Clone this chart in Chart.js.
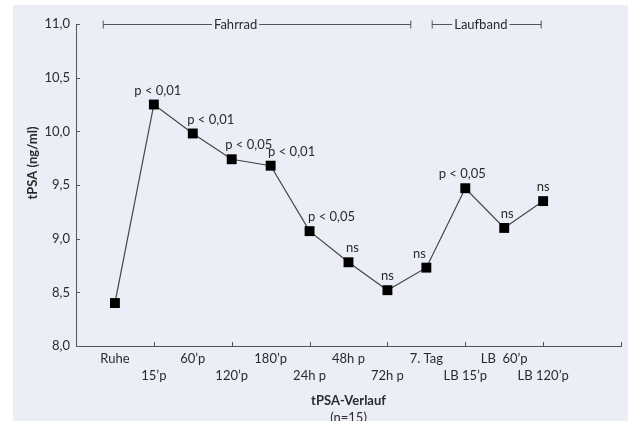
<!DOCTYPE html>
<html>
<head>
<meta charset="utf-8">
<script src="https://cdn.jsdelivr.net/npm/chart.js@4.4.0/dist/chart.umd.min.js"></script>
<style>
  body { margin: 0; background: #fff; }
  #wrap { position: relative; width: 628px; height: 421px; background: #fff; overflow: hidden; }
  #panel { position: absolute; left: 13px; top: 5px; right: 0; bottom: 0; background: #eceef7; }
  #wrap canvas { position: absolute; left: 0; top: 0; }
</style>
</head>
<body>
<div id="wrap"><div id="panel"></div><canvas id="chart"></canvas></div>
<script>
// ── Daten ──────────────────────────────────────────────────────────────
const categories = ['Ruhe', '15’p', '60’p', '120’p', '180’p', '24h p', '48h p', '72h p',
                    '7. Tag', 'LB 15’p', 'LB  60’p', 'LB 120’p'];
const tpsa       = [8.40, 10.25, 9.98, 9.74, 9.68, 9.07, 8.78, 8.52, 8.73, 9.47, 9.10, 9.35];
const pValues    = ['', 'p < 0,01', 'p < 0,01', 'p < 0,05', 'p < 0,01', 'p < 0,05',
                    'ns', 'ns', 'ns', 'p < 0,05', 'ns', 'ns'];
const yTicks     = [8.0, 8.5, 9.0, 9.5, 10.0, 10.5, 11.0];

// Phasen (Klammern oben), in Kategorie-Einheiten
const phaseNames = ['Fahrrad', 'Laufband'];
const phaseFrom  = [0.7, 9.15];
const phaseTo    = [8.6, 11.95];
const phaseMid   = [4.1, 10.4];

const xTitle = 'tPSA-Verlauf';
const xSub   = '(n=15)';
const yTitle = 'tPSA (ng/ml)';

// horizontale Verschiebung der p-Beschriftungen (px)
const labelDx = [0, 4, 18, 17, 21, 22, 4, 0, -7, -3, 3, 0];

const FONT = 'Lato, "Noto Sans", sans-serif';
const INK = '#2b2b2b';
const AXIS = '#555';
const fmt = v => v.toFixed(1).replace('.', ',');

const extras = {
  id: 'extras',
  afterDraw(chart) {
    const { ctx, chartArea: a, scales: { x, y } } = chart;
    ctx.save();
    // Tickmarks nach innen
    ctx.strokeStyle = AXIS; ctx.lineWidth = 1;
    ctx.beginPath();
    for (let v = 2; v <= 14; v += 2) {
      const px = Math.round(x.getPixelForValue(v)) + 0.5;
      ctx.moveTo(px, a.bottom); ctx.lineTo(px, a.bottom - 4);
    }
    yTicks.forEach(v => {
      const py = Math.round(y.getPixelForValue(v)) + 0.5;
      ctx.moveTo(a.left, py); ctx.lineTo(a.left + 4, py);
    });
    ctx.stroke();

    // p-Werte
    ctx.fillStyle = INK;
    ctx.font = '13px ' + FONT;
    ctx.textAlign = 'center'; ctx.textBaseline = 'middle';
    pValues.forEach((t, i) => {
      if (!t) return;
      ctx.fillText(t, x.getPixelForValue(i + 1) + labelDx[i], y.getPixelForValue(tpsa[i]) - 14);
    });

    // Phasen-Klammern
    const by = Math.round(y.getPixelForValue(11)) + 0.5;
    ctx.strokeStyle = AXIS;
    phaseNames.forEach((n, i) => {
      const x0 = x.getPixelForValue(phaseFrom[i]), x1 = x.getPixelForValue(phaseTo[i]);
      const xm = x.getPixelForValue(phaseMid[i]);
      const w = ctx.measureText(n).width / 2 + 2;
      ctx.beginPath();
      ctx.moveTo(x0, by); ctx.lineTo(xm - w, by);
      ctx.moveTo(xm + w, by); ctx.lineTo(x1, by);
      ctx.moveTo(x0, by - 4); ctx.lineTo(x0, by + 4);
      ctx.moveTo(x1, by - 4); ctx.lineTo(x1, by + 4);
      ctx.stroke();
      ctx.fillText(n, xm, by);
    });

    // Achsentitel
    const cx = (a.left + a.right) / 2;
    ctx.font = 'bold 13px ' + FONT;
    ctx.fillText(xTitle, cx, 401);
    ctx.font = '13px ' + FONT;
    ctx.fillText(xSub, cx, 418);

    ctx.translate(33, (a.top + a.bottom) / 2 - 22);
    ctx.rotate(-Math.PI / 2);
    ctx.font = 'bold 13px ' + FONT;
    ctx.fillText(yTitle, 0, 0);
    ctx.restore();
  }
};

new Chart(document.getElementById('chart'), {
  type: 'line',
  data: {
    datasets: [{
      data: tpsa.map((v, i) => ({ x: i + 1, y: v })),
      borderColor: '#444', borderWidth: 1.2,
      pointStyle: 'rect', pointRadius: 7, pointHoverRadius: 7,
      pointBackgroundColor: '#000', pointBorderWidth: 0,
      tension: 0,
    }],
  },
  options: {
    responsive: true, maintainAspectRatio: false, animation: false,
    layout: { padding: { left: 26, right: 6, top: 24, bottom: 0 } },
    plugins: { legend: { display: false }, tooltip: { enabled: false } },
    scales: {
      x: {
        type: 'linear', min: 0, max: 14,
        afterFit: s => { s.height = 75; },
        grid: { display: false, drawTicks: false },
        border: { display: true, color: AXIS, width: 1 },
        ticks: {
          stepSize: 1, autoSkip: false, maxRotation: 0, padding: 4,
          color: INK, font: { family: FONT, size: 13, lineHeight: 1.3 },
          callback: v => {
            const c = categories[v - 1];
            if (!c) return '';
            return v % 2 === 1 ? [c] : ['', c];
          },
        },
      },
      y: {
        min: 8, max: 11,
        afterFit: s => { s.width = 50; },
        grid: { display: false, drawTicks: false },
        border: { display: true, color: AXIS, width: 1 },
        ticks: {
          stepSize: 0.5, padding: 6, color: INK,
          font: { family: FONT, size: 13 },
          callback: v => fmt(v),
        },
      },
    },
  },
  plugins: [extras],
});
</script>
</body>
</html>
